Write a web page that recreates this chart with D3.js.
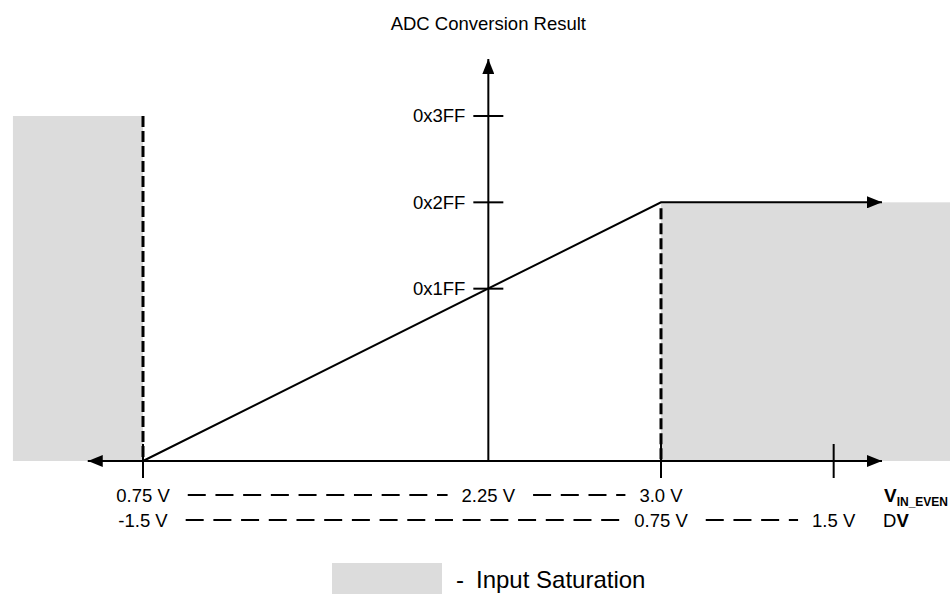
<!DOCTYPE html>
<html>
<head>
<meta charset="utf-8">
<script src="https://cdn.jsdelivr.net/npm/d3@7"></script>
<style>
  body { margin: 0; background: #fff; }
  svg { display: block; font-family: Arial, "Liberation Sans", sans-serif; }
</style>
</head>
<body>
<div class="container"></div>
<script>
const w = 950;
const h = 594;

// data
const codeTicks = [0x1FF, 0x2FF, 0x3FF];
const codeLabels = ['0x1FF', '0x2FF', '0x3FF'];
const vinTicks = [0.75, 2.25, 3.0];
const vinLabels = ['0.75 V', '2.25 V', '3.0 V'];
const dvTicks = [-1.5, 0.75, 1.5];
const dvLabels = ['-1.5 V', '0.75 V', '1.5 V'];
const transferV = [0.75, 3.0, 3.96];
const transferCode = [0, 0x2FF, 0x2FF];
const satLeft = [0.185, 0.75];     // V_IN range
const satLeftCode = [0, 0x3FF];
const satRight = [3.0, 4.3];
const satRightCode = [0, 0x2FF];
const xAxisExtent = [0.51, 3.96];
const yAxisTop = 1192;

// scales
const xScale = d3.scaleLinear().domain([0.75, 3.0]).range([143, 661]);
const dvScale = d3.scaleLinear().domain([-1.5, 0.75]).range([143, 661]);
const yScale = d3.scaleLinear().domain([0, 0x3FF]).range([461, 116]);

const svg = d3.select('.container')
  .append('svg')
  .attr('width', w)
  .attr('height', h);

const defs = svg.append('defs');
defs.append('marker')
  .attr('id', 'arrow')
  .attr('viewBox', '0 0 15 12')
  .attr('refX', 15)
  .attr('refY', 6)
  .attr('markerUnits', 'userSpaceOnUse')
  .attr('markerWidth', 15)
  .attr('markerHeight', 12)
  .attr('orient', 'auto-start-reverse')
  .append('path')
  .attr('d', 'M0,0 L15,6 L0,12 Z')
  .attr('fill', '#000');

const grey = '#dcdcdc';

// saturation regions
svg.append('rect')
  .attr('x', xScale(satLeft[0]))
  .attr('y', yScale(satLeftCode[1]))
  .attr('width', xScale(satLeft[1]) - xScale(satLeft[0]))
  .attr('height', yScale(satLeftCode[0]) - yScale(satLeftCode[1]))
  .attr('fill', grey);
svg.append('rect')
  .attr('x', xScale(satRight[0]))
  .attr('y', yScale(satRightCode[1]))
  .attr('width', xScale(satRight[1]) - xScale(satRight[0]))
  .attr('height', yScale(satRightCode[0]) - yScale(satRightCode[1]))
  .attr('fill', grey);

// dashed verticals at saturation edges
svg.append('line')
  .attr('x1', xScale(0.75)).attr('x2', xScale(0.75))
  .attr('y1', yScale(0x3FF)).attr('y2', yScale(0))
  .attr('stroke', '#000').attr('stroke-width', 3)
  .attr('stroke-dasharray', '11,4');
svg.append('line')
  .attr('x1', xScale(3.0)).attr('x2', xScale(3.0))
  .attr('y1', yScale(0x2FF) + 6).attr('y2', yScale(0))
  .attr('stroke', '#000').attr('stroke-width', 3)
  .attr('stroke-dasharray', '11,4');

// x axis (double arrow)
svg.append('line')
  .attr('x1', xScale(xAxisExtent[0])).attr('x2', xScale(xAxisExtent[1]))
  .attr('y1', yScale(0)).attr('y2', yScale(0))
  .attr('stroke', '#000').attr('stroke-width', 2)
  .attr('marker-start', 'url(#arrow)')
  .attr('marker-end', 'url(#arrow)');

// x ticks
svg.selectAll('.xtick')
  .data([0.75, 3.0, 3.75])
  .enter()
  .append('line')
  .attr('class', 'xtick')
  .attr('x1', (d) => xScale(d)).attr('x2', (d) => xScale(d))
  .attr('y1', yScale(0) - 17).attr('y2', yScale(0) + 17)
  .attr('stroke', '#000').attr('stroke-width', 2);

// y axis
svg.append('line')
  .attr('x1', xScale(2.25)).attr('x2', xScale(2.25))
  .attr('y1', yScale(0)).attr('y2', yScale(yAxisTop))
  .attr('stroke', '#000').attr('stroke-width', 2)
  .attr('marker-end', 'url(#arrow)');

svg.selectAll('.ytick')
  .data(codeTicks)
  .enter()
  .append('line')
  .attr('class', 'ytick')
  .attr('x1', xScale(2.25) - 15).attr('x2', xScale(2.25) + 15)
  .attr('y1', (d) => yScale(d)).attr('y2', (d) => yScale(d))
  .attr('stroke', '#000').attr('stroke-width', 2);

svg.selectAll('.ylabel')
  .data(codeTicks)
  .enter()
  .append('text')
  .attr('class', 'ylabel')
  .attr('x', xScale(2.25) - 23)
  .attr('y', (d) => yScale(d))
  .attr('dy', '0.35em')
  .attr('text-anchor', 'end')
  .style('font-size', '18.5px')
  .text((d, i) => codeLabels[i]);

// transfer function
const line = d3.line()
  .x((d) => xScale(d[0]))
  .y((d) => yScale(d[1]));
svg.append('path')
  .datum(transferV.map((v, i) => [v, transferCode[i]]))
  .attr('d', line)
  .attr('fill', 'none')
  .attr('stroke', '#000')
  .attr('stroke-width', 2)
  .attr('marker-end', 'url(#arrow)');

// title
svg.append('text')
  .attr('x', xScale(2.25))
  .attr('y', 30)
  .attr('text-anchor', 'middle')
  .style('font-size', '18.5px')
  .text('ADC Conversion Result');

// bottom label rows
function labelRow(values, labels, scale, y, dashPairs) {
  const nodes = [];
  values.forEach((v, i) => {
    const t = svg.append('text')
      .attr('x', scale(v))
      .attr('y', y)
      .attr('text-anchor', 'middle')
      .style('font-size', '18.5px')
      .text(labels[i]);
    const len = t.node().getComputedTextLength();
    nodes.push([scale(v) - len / 2, scale(v) + len / 2]);
  });
  dashPairs.forEach((p) => {
    svg.append('line')
      .attr('x1', nodes[p][1] + 18)
      .attr('x2', nodes[p + 1][0] - 14)
      .attr('y1', y - 7).attr('y2', y - 7)
      .attr('stroke', '#000').attr('stroke-width', 2)
      .attr('stroke-dasharray', '18,9.7');
  });
}
labelRow(vinTicks, vinLabels, xScale, 502, [0, 1]);
labelRow(dvTicks, dvLabels, dvScale, 527, [0, 1]);

// axis names
const vin = svg.append('text')
  .attr('x', 884)
  .attr('y', 502)
  .style('font-size', '19px')
  .style('font-weight', 'bold');
vin.append('tspan').text('V');
vin.append('tspan')
  .attr('dy', 4)
  .style('font-size', '12px')
  .text('IN_EVEN');

const dv = svg.append('text')
  .attr('x', 883)
  .attr('y', 527)
  .style('font-size', '18.5px');
dv.append('tspan').text('D');
dv.append('tspan').style('font-weight', 'bold').text('V');

// legend
svg.append('rect')
  .attr('x', 332)
  .attr('y', 563)
  .attr('width', 110)
  .attr('height', 40)
  .attr('fill', grey);
svg.append('text')
  .attr('x', 456)
  .attr('y', 588)
  .style('font-size', '24px')
  .text('-');
svg.append('text')
  .attr('x', 476)
  .attr('y', 588)
  .style('font-size', '24px')
  .text('Input Saturation');
</script>
</body>
</html>
